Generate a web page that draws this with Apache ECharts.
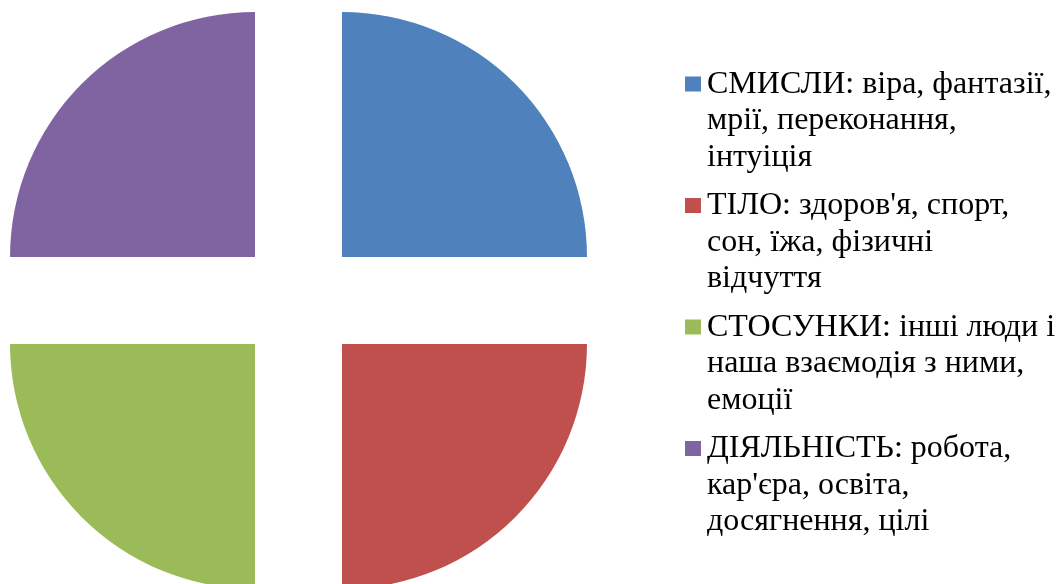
<!DOCTYPE html>
<html>
<head>
<meta charset="utf-8">
<script src="https://cdn.jsdelivr.net/npm/echarts@6/dist/echarts.min.js"></script>
<style>
html,body{margin:0;padding:0;background:#fff;}
#chart{width:1059px;height:584px;}
</style>
</head>
<body>
<div id="chart"></div>
<script>
const categories = [
  'СМИСЛИ: віра, фантазії, мрії, переконання, інтуіція',
  'ТІЛО: здоров\'я, спорт, сон, їжа, фізичні відчуття',
  'СТОСУНКИ: інші люди і наша взаємодія з ними, емоції',
  'ДІЯЛЬНІСТЬ: робота, кар\'єра, освіта, досягнення, цілі'
];
const legendLines = [
  ['СМИСЛИ: віра, фантазії,', 'мрії, переконання,', 'інтуіція'],
  ['ТІЛО: здоров\'я, спорт,', 'сон, їжа, фізичні', 'відчуття'],
  ['СТОСУНКИ: інші люди і', 'наша взаємодія з ними,', 'емоції'],
  ['ДІЯЛЬНІСТЬ: робота,', 'кар\'єра, освіта,', 'досягнення, цілі']
];
const values = [25, 25, 25, 25];
const colors = ['#4F81BD', '#C0504D', '#9BBB59', '#8064A2'];

const chart = echarts.init(document.getElementById('chart'));
const LH = 36.5;
chart.setOption({
  animation: false,
  color: colors,
  legend: {
    orient: 'vertical',
    left: 685,
    top: 66,
    padding: 0,
    itemGap: 12,
    itemWidth: 17,
    itemHeight: LH * 3,
    icon: 'path://M0 0L0.01 0M0 10.5H16V25.5H0ZM17 109.5L17.01 109.5',
    itemStyle: { borderWidth: 0 },
    selectedMode: false,
    textStyle: {
      fontFamily: '"Liberation Serif", "Times New Roman", serif',
      fontSize: 32,
      lineHeight: LH,
      color: '#000'
    },
    formatter: function (name) {
      const i = categories.indexOf(name);
      return legendLines[i].join('\n');
    },
    data: categories
  },
  series: [{
    type: 'pie',
    center: [298.5, 300.5],
    radius: 245,
    startAngle: 90,
    clockwise: true,
    selectedMode: 'multiple',
    selectedOffset: 61.5,
    label: { show: false },
    labelLine: { show: false },
    emphasis: { disabled: true },
    itemStyle: { borderWidth: 0 },
    data: categories.map((c, i) => ({ name: c, value: values[i], selected: true }))
  }]
});
</script>
</body>
</html>
